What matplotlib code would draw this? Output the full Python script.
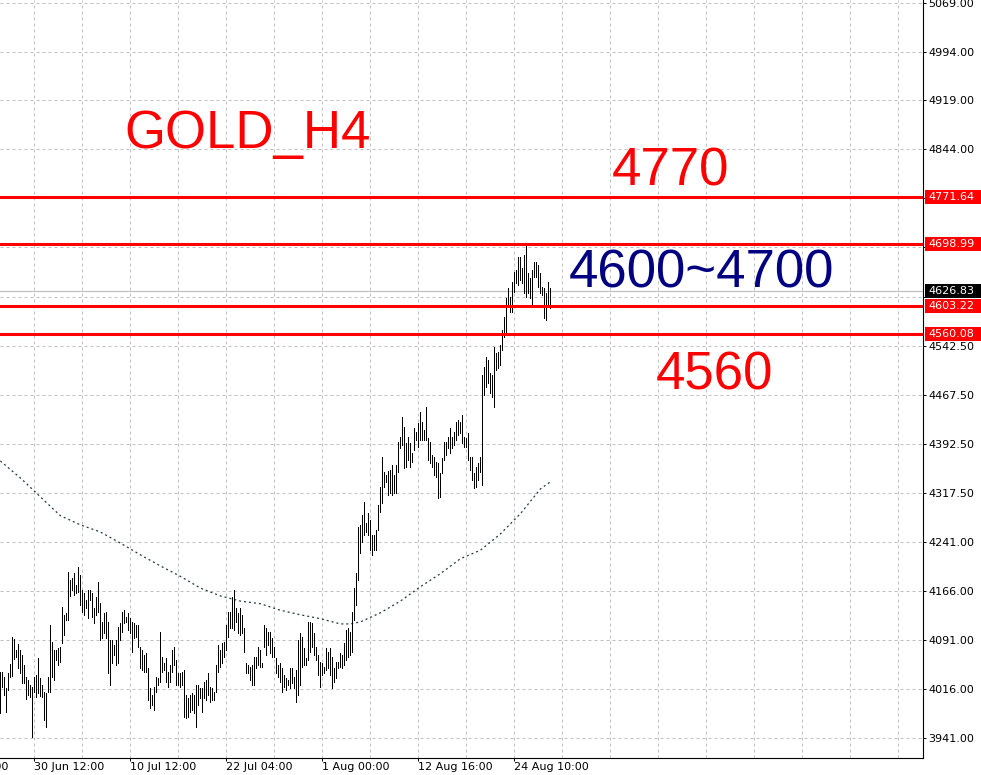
import numpy as np
import matplotlib
matplotlib.use("Agg")
import matplotlib.pyplot as plt
from matplotlib.patches import Rectangle
from matplotlib.transforms import blended_transform_factory

# H4 bars, left to right (price high / low)
highs = [
    4042, 4042, 4034, 4018, 4041, 4054, 4096, 4093, 4076, 4085,
    4076, 4068, 4053, 4034, 4030, 4022, 4019, 4034, 4037, 4064,
    4033, 4022, 4011, 4010, 4034, 4114, 4088, 4076, 4076, 4079,
    4081, 4142, 4130, 4133, 4196, 4183, 4186, 4194, 4176, 4203,
    4191, 4168, 4163, 4153, 4168, 4168, 4163, 4140, 4157, 4180,
    4148, 4119, 4133, 4134, 4119, 4091, 4091, 4084, 4091, 4111,
    4117, 4134, 4137, 4127, 4133, 4125, 4119, 4117, 4114, 4114,
    4081, 4076, 4068, 4071, 4048, 4018, 4007, 4019, 4034, 4033,
    4104, 4065, 4056, 4064, 4042, 4053, 4076, 4081, 4061, 4041,
    4041, 4042, 4045, 4007, 4002, 4007, 4010, 4007, 4022, 4022,
    4018, 4018, 4027, 4030, 4041, 4019, 4018, 4011, 4053, 4084,
    4076, 4087, 4088, 4114, 4134, 4134, 4157, 4168, 4140, 4133,
    4140, 4130, 4110, 4056, 4053, 4050, 4053, 4065, 4065, 4081,
    4076, 4056, 4114, 4110, 4104, 4104, 4094, 4081, 4064, 4053,
    4056, 4048, 4037, 4033, 4030, 4048, 4048, 4034, 4045, 4091,
    4102, 4096, 4079, 4064, 4119, 4119, 4117, 4102, 4081, 4068,
    4058, 4056, 4050, 4079, 4073, 4079, 4065, 4048, 4058, 4058,
    4071, 4068, 4087, 4107, 4110, 4104, 4134, 4171, 4194, 4265,
    4268, 4283, 4303, 4271, 4286, 4275, 4252, 4252, 4260, 4298,
    4326, 4372, 4349, 4344, 4351, 4352, 4360, 4344, 4360, 4395,
    4403, 4433, 4418, 4394, 4403, 4394, 4378, 4417, 4410, 4424,
    4441, 4426, 4413, 4449, 4401, 4395, 4375, 4372, 4364, 4363,
    4348, 4371, 4395, 4395, 4403, 4417, 4403, 4410, 4426, 4429,
    4426, 4437, 4403, 4401, 4409, 4372, 4372, 4348, 4357, 4363,
    4372, 4498, 4510, 4525, 4521, 4501, 4498, 4541, 4532, 4533,
    4544, 4567, 4587, 4616, 4631, 4617, 4640, 4656, 4659, 4679,
    4679, 4662, 4682, 4699, 4654, 4647, 4659, 4671, 4671, 4667,
    4654, 4633, 4631, 4624, 4640, 4632,
]
lows = [
    3979, 4019, 4007, 3981, 4015, 4034, 4036, 4062, 4065, 4048,
    4041, 4025, 4025, 4001, 4007, 4004, 3943, 4012, 4004, 4010,
    4005, 4004, 3969, 3958, 4012, 4012, 4034, 4030, 4061, 4053,
    4058, 4087, 4099, 4122, 4122, 4159, 4168, 4160, 4163, 4165,
    4145, 4134, 4130, 4140, 4125, 4153, 4127, 4117, 4130, 4134,
    4091, 4094, 4102, 4094, 4041, 4022, 4056, 4068, 4053, 4056,
    4091, 4104, 4117, 4119, 4107, 4102, 4073, 4094, 4096, 4081,
    4048, 4045, 4042, 4042, 3999, 3987, 3992, 3984, 4012, 4022,
    4027, 4042, 4045, 4027, 4019, 4027, 4042, 4053, 4022, 4022,
    4019, 4022, 3973, 3972, 3973, 3981, 3984, 3979, 3958, 3992,
    4002, 3981, 4002, 3999, 4007, 3996, 3999, 3999, 4012, 4042,
    4050, 4056, 4065, 4076, 4096, 4110, 4110, 4107, 4119, 4102,
    4099, 4102, 4073, 4041, 4041, 4030, 4022, 4022, 4048, 4053,
    4050, 4050, 4081, 4068, 4084, 4071, 4065, 4065, 4041, 4034,
    4027, 4012, 4019, 4015, 4022, 4018, 4025, 4018, 3996, 4007,
    4022, 4050, 4053, 4053, 4061, 4073, 4081, 4068, 4061, 4038,
    4019, 4038, 4041, 4045, 4048, 4038, 4018, 4027, 4033, 4048,
    4050, 4048, 4053, 4061, 4065, 4068, 4073, 4122, 4145, 4183,
    4225, 4242, 4252, 4257, 4252, 4229, 4222, 4229, 4229, 4260,
    4288, 4301, 4326, 4334, 4314, 4317, 4314, 4317, 4317, 4349,
    4386, 4390, 4355, 4357, 4367, 4357, 4364, 4383, 4398, 4387,
    4398, 4398, 4398, 4398, 4367, 4363, 4357, 4344, 4341, 4309,
    4311, 4348, 4367, 4375, 4386, 4378, 4386, 4390, 4398, 4406,
    4409, 4393, 4387, 4387, 4367, 4352, 4337, 4325, 4326, 4337,
    4349, 4329, 4467, 4479, 4486, 4470, 4464, 4449, 4506, 4509,
    4513, 4536, 4556, 4562, 4605, 4594, 4594, 4625, 4639, 4636,
    4644, 4639, 4624, 4617, 4624, 4616, 4605, 4648, 4648, 4633,
    4624, 4621, 4585, 4582, 4602, 4601,
]

# moving average (read every ~10 bars)
ma_bar = [0, 10, 20, 30, 40, 50, 60, 70, 80, 90, 100, 110, 120, 130, 140,
          150, 160, 170, 175, 180, 190, 200, 210, 220, 230, 240, 250, 260, 270, 275]
ma_val = [4366, 4340, 4311, 4282, 4268, 4257, 4240, 4222, 4205, 4189, 4171, 4159, 4151, 4147, 4137,
          4130, 4124, 4116, 4116, 4119, 4133, 4151, 4173, 4193, 4216, 4229, 4254, 4285, 4323, 4334]

red_levels = [4771.64, 4698.99, 4603.22, 4560.08]
bid = 4626.83

ytick_vals = [3941, 4016, 4091, 4166, 4241, 4317.5, 4392.5, 4467.5, 4542.5,
              4617.5, 4694, 4769, 4844, 4919, 4994, 5069]
hidden_ticks = [4617.5, 4694, 4769]  # covered by the price boxes
date_bars = [17, 65, 113, 161, 209, 257]
date_labels = ["30 Jun 12:00", "10 Jul 12:00", "22 Jul 04:00",
               "1 Aug 00:00", "12 Aug 16:00", "24 Aug 10:00"]

W, H = 981, 775
fig = plt.figure(figsize=(W / 100, H / 100), dpi=100)
fig.patch.set_facecolor("white")
ax_w, ax_h = 923, 758
ax = fig.add_axes([0, 1 - ax_h / H, ax_w / W, ax_h / H])

ymin, ymax = 3910.3, 5073.1
xmin, xmax = -0.165, 461.3
PX = (ymax - ymin) / ax_h  # price per pixel

# grid
for b in range(17, 461, 24):
    ax.axvline(b, color="#c0c0c0", lw=0.72, dashes=(3, 3), zorder=1)
for v in ytick_vals:
    ax.axhline(v, color="#c0c0c0", lw=0.72, dashes=(3, 3), zorder=1)

ax.axhline(bid, color="#c0c0c0", lw=0.9, zorder=1.5)

x = np.arange(len(highs))
ax.vlines(x, lows, highs, color="black", lw=0.5, antialiased=False, zorder=3)

ax.plot(ma_bar, ma_val, color="#1f3a3a", lw=0.9, dashes=(1.6, 2.4), zorder=2)

for lv in red_levels:
    ax.axhline(lv, color="#ff0000", lw=2.2, zorder=4)

ax.set_xlim(xmin, xmax)
ax.set_ylim(ymin, ymax)

for s in ["left", "top"]:
    ax.spines[s].set_visible(False)
for s in ["right", "bottom"]:
    ax.spines[s].set_color("black")
    ax.spines[s].set_linewidth(0.8)

ax.yaxis.tick_right()
ax.set_yticks(ytick_vals)
ax.set_yticklabels(["" if v in hidden_ticks else f"{v:.2f}" for v in ytick_vals])
ax.tick_params(axis="y", direction="out", length=2.2, width=0.7, pad=1.5,
               labelsize=8, colors="black")

ax.set_xticks(date_bars)
ax.set_xticklabels(date_labels)
for lab in ax.get_xticklabels():
    lab.set_ha("left")
ax.tick_params(axis="x", direction="out", length=2.2, width=0.7, pad=1.0,
               labelsize=8, colors="black")
# label cut off by the left edge
ax.text(17 - 48, -(2.2 * 1.389 + 1.4) / ax_h, "19 Jun 20:00", fontsize=8,
        transform=blended_transform_factory(ax.transData, ax.transAxes),
        ha="left", va="top", clip_on=False)

# price labels on the right axis
trans = blended_transform_factory(fig.transFigure, ax.transData)
boxes = [(lv, "#ff0000") for lv in red_levels] + [(bid, "black")]
for val, bg in boxes:
    ax.add_patch(Rectangle((925 / W, val - 7 * PX), 56 / W, 14 * PX, transform=trans,
                           facecolor=bg, edgecolor="none", clip_on=False, zorder=10))
    ax.text(928 / W, val, f"{val:.2f}", transform=trans, color="white", fontsize=8,
            va="center", ha="left", zorder=11, clip_on=False)
ax.set_xlim(xmin, xmax)
ax.set_ylim(ymin, ymax)

big = dict(fontsize=38, family="Liberation Sans", va="baseline", ha="left")
fig.text(124 / W, 1 - 148 / H, "GOLD_H4", color="#ff0000", **big)
fig.text(612 / W, 1 - 186 / H, "4770", color="#ff0000", **big)
fig.text(569 / W, 1 - 287 / H, "4600~4700", color="#000080", **big)
fig.text(656 / W, 1 - 390 / H, "4560", color="#ff0000", **big)

fig.savefig("out.png", dpi=100)
